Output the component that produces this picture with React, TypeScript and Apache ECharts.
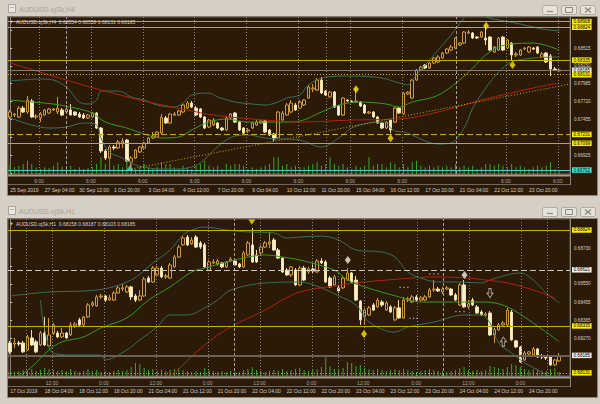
import React, { useEffect, useRef } from "react";
import * as echarts from "echarts";

const FONT = "'Liberation Sans', Arial, sans-serif";
const PAGE_BG = "#d5cfc5";
const PANEL = "#2b1a07";
const TXT = "#d6cec4";

// ---------------- TOP PANEL (H4) ----------------
const TOP_TITLE = "AUDUSD.ojSk,H4";
const TOP_LEGEND = "AUDUSD.ojSk,H4  0.68554 0.68558 0.68131 0.68185";
// [open, close, low, high]
const TOP_OHLC: number[][] = [
  [0.6749,0.67564,0.6746,0.67594],[0.67519,0.67534,0.6749,0.67549],[0.6749,0.67623,0.67475,0.67653],[0.67623,0.67564,0.67549,0.67653],
  [0.67564,0.67742,0.67534,0.67802],[0.67727,0.6749,0.67475,0.67757],[0.6749,0.67505,0.6746,0.67534],[0.67475,0.67534,0.67415,0.67564],
  [0.67519,0.67594,0.67505,0.67609],[0.67549,0.67609,0.67534,0.67623],[0.67594,0.67609,0.67579,0.67623],[0.67564,0.67623,0.67534,0.67787],
  [0.67594,0.67519,0.67505,0.67623],[0.67564,0.67609,0.67549,0.67668],[0.67594,0.67519,0.67519,0.67683],[0.67564,0.67519,0.67505,0.67579],
  [0.67534,0.6749,0.67475,0.67564],[0.67519,0.67475,0.6746,0.67549],[0.67475,0.67519,0.6746,0.67534],[0.6749,0.67549,0.67475,0.67564],
  [0.67549,0.67326,0.67311,0.67564],[0.67326,0.66985,0.66955,0.67341],[0.66985,0.6688,0.66851,0.67014],[0.6688,0.67044,0.66866,0.67074],
  [0.67044,0.67029,0.67,0.67074],[0.67029,0.67118,0.67014,0.67148],[0.67103,0.67133,0.67029,0.67178],[0.67148,0.66836,0.66821,0.67163],
  [0.66821,0.6688,0.66747,0.6691],[0.6688,0.67,0.66866,0.67014],[0.6697,0.67044,0.66955,0.67059],[0.67029,0.67103,0.67014,0.67118],
  [0.67103,0.67178,0.67089,0.67193],[0.67178,0.67207,0.67163,0.67267],[0.67193,0.67267,0.67178,0.67282],[0.67252,0.6749,0.67237,0.67534],
  [0.67475,0.67401,0.67386,0.67505],[0.67401,0.67534,0.67386,0.67549],[0.67519,0.67534,0.67505,0.67564],[0.67519,0.67579,0.67505,0.67594],
  [0.67564,0.67668,0.67549,0.67698],[0.67623,0.67698,0.67609,0.67727],[0.67698,0.67638,0.67623,0.67727],[0.67623,0.67519,0.67505,0.67653],
  [0.67609,0.6749,0.67475,0.67623],[0.6749,0.67326,0.67311,0.67505],[0.67341,0.67445,0.67326,0.6746],[0.67371,0.67445,0.67356,0.67475],
  [0.67401,0.67326,0.67311,0.67415],[0.67326,0.67297,0.67282,0.67341],[0.67297,0.67475,0.67282,0.67505],[0.67475,0.67534,0.6746,0.67549],
  [0.67549,0.67415,0.67401,0.67564],[0.67415,0.67297,0.67282,0.6743],[0.67326,0.67252,0.67237,0.67341],[0.67282,0.67297,0.67252,0.67326],
  [0.67326,0.67401,0.67311,0.67415],[0.67371,0.67415,0.67356,0.67445],[0.67401,0.6743,0.67386,0.67445],[0.6743,0.67267,0.67252,0.67445],
  [0.67297,0.67222,0.67207,0.67311],[0.67237,0.67163,0.67133,0.67252],[0.67178,0.67564,0.67163,0.67579],[0.67445,0.67549,0.6743,0.67579],
  [0.67519,0.67668,0.67505,0.67698],[0.67564,0.67698,0.67549,0.67742],[0.67668,0.67594,0.67579,0.67698],[0.67623,0.67713,0.67609,0.67742],
  [0.67668,0.67742,0.67653,0.67757],[0.67772,0.67935,0.67757,0.67965],[0.67906,0.67921,0.67861,0.6798],[0.67891,0.68039,0.67876,0.68069],
  [0.68039,0.67846,0.67831,0.68084],[0.67876,0.67817,0.67802,0.67891],[0.67787,0.67861,0.67772,0.67876],[0.67861,0.67638,0.67623,0.67876],
  [0.67653,0.67519,0.67505,0.67668],[0.67519,0.67772,0.67505,0.67787],[0.67742,0.67727,0.67713,0.67757],[0.67727,0.67713,0.67698,0.67742],
  [0.67713,0.67727,0.67698,0.67921],[0.67713,0.67653,0.67638,0.67727],[0.67668,0.67549,0.67534,0.67683],[0.67549,0.67564,0.67534,0.67579],
  [0.67564,0.6749,0.67475,0.67579],[0.6749,0.67401,0.67386,0.67505],[0.67401,0.67326,0.67311,0.67415],[0.67326,0.67415,0.67311,0.6743],
  [0.67445,0.67297,0.67252,0.6746],[0.67415,0.67623,0.67401,0.67638],[0.67623,0.67549,0.67534,0.67638],[0.67534,0.67846,0.67519,0.67861],
  [0.67831,0.67861,0.67817,0.67876],[0.67772,0.68039,0.67757,0.68054],[0.68039,0.68188,0.68025,0.68203],[0.68188,0.68233,0.68173,0.68248],
  [0.68262,0.68218,0.68203,0.68277],[0.68218,0.68292,0.68203,0.68307],[0.68292,0.68366,0.68277,0.68381],[0.68307,0.68381,0.68292,0.68411],
  [0.68366,0.68441,0.68352,0.68456],[0.68441,0.685,0.68426,0.68515],[0.68485,0.6853,0.6847,0.6856],[0.68515,0.68664,0.685,0.68678],
  [0.6856,0.68589,0.68545,0.68604],[0.68589,0.68753,0.68574,0.68768],[0.68738,0.68753,0.68723,0.68782],[0.68738,0.68664,0.68649,0.68753],
  [0.68678,0.68664,0.68649,0.68693],[0.68678,0.68753,0.68664,0.68768],[0.68664,0.68634,0.6856,0.68857],[0.68678,0.68485,0.6847,0.68693],
  [0.68456,0.6853,0.68441,0.68545],[0.68485,0.68664,0.6847,0.68678],[0.68678,0.68485,0.6847,0.68693],[0.68515,0.68634,0.685,0.68649],
  [0.68589,0.68411,0.68337,0.68604],[0.68411,0.68426,0.68381,0.68456],[0.68411,0.68485,0.68396,0.685],[0.685,0.68515,0.68485,0.6853],
  [0.68456,0.6853,0.68441,0.68545],[0.68515,0.685,0.68485,0.6853],[0.6853,0.68441,0.68426,0.68545],[0.68381,0.68426,0.68366,0.68456],
  [0.68441,0.68307,0.68292,0.68456],[0.68396,0.68203,0.68099,0.68426],[0.68203,0.68188,0.68173,0.68233],[0.68173,0.68188,0.68158,0.68203],
];
const TOP_VOL: number[] = [
  1000,700,830,1000,1330,1000,670,500,670,600, 830,1170,730,670,830,500,670,500,600,730,
  1000,1670,1000,2330,830,1000,670,2000,1000,500, 670,1000,670,500,730,1170,1000,1000,670,500,
  830,670,500,830,1000,1330,830,670,830,500, 1000,830,1000,1000,830,500,670,500,670,830,
  1000,1670,1670,830,1000,670,830,670,670,830, 1000,1170,830,1000,1670,1000,830,1000,670,500,
  830,670,830,1670,830,1000,1000,670,1170,1000, 670,1000,670,1170,1330,830,670,830,670,830,
  670,830,670,1000,670,830,670,830,500,670, 1000,1000,830,1000,830,670,1000,670,830,670,
  500,670,830,670,830,1170,500,330,
];
// Bollinger upper / middle / lower and slow MA, read as [bar, price]
const TOP_BB_UP: number[][] = [
  [0,0.68025],[7,0.68054],[10,0.68039],[13,0.67935],[16,0.67713],[18,0.67683],[20,0.67742],[21,0.67876],[24,0.67876],[26,0.67861],
  [28,0.67787],[31,0.67742],[34,0.67668],[38,0.67638],[40,0.67698],[42,0.67817],[46,0.67846],[48,0.67787],[52,0.67713],[56,0.67683],
  [59,0.67668],[62,0.67713],[64,0.67772],[67,0.67817],[69,0.67965],[73,0.68084],[79,0.68099],[86,0.68069],[90,0.67995],[92,0.67965],
  [93,0.68039],[96,0.68262],[99,0.68485],[102,0.68708],[105,0.68961],[107,0.6908],[110,0.68976],[113,0.68931],[118,0.68872],[123,0.68797],[127,0.68768],
];
const TOP_BB_MID: number[][] = [
  [0,0.67742],[5,0.67713],[10,0.67683],[15,0.67623],[19,0.67549],[22,0.67415],[27,0.67326],[31,0.67237],[35,0.67178],[39,0.67193],
  [42,0.67297],[46,0.67415],[50,0.6746],[55,0.67415],[59,0.67415],[63,0.67415],[67,0.6743],[72,0.67564],[76,0.67668],[81,0.67713],
  [87,0.67683],[90,0.67638],[93,0.67713],[98,0.67787],[101,0.67891],[104,0.68039],[107,0.68218],[110,0.68411],[113,0.6853],[116,0.68574],
  [121,0.68589],[127,0.68485],
];
const TOP_BB_LOW: number[][] = [
  [0,0.67475],[5,0.67371],[9,0.67326],[13,0.67341],[17,0.67401],[20,0.67371],[21,0.67178],[23,0.6697],[26,0.6688],[29,0.66776],
  [32,0.66732],[35,0.66717],[39,0.66717],[42,0.66747],[44,0.66806],[46,0.66925],[49,0.67103],[52,0.67207],[55,0.67222],[59,0.67178],
  [63,0.67163],[67,0.67148],[72,0.67044],[76,0.67178],[79,0.67326],[83,0.67401],[86,0.67415],[89,0.67282],[91,0.67267],[93,0.67222],
  [96,0.67133],[99,0.67089],[102,0.67103],[105,0.67326],[107,0.67623],[110,0.67921],[113,0.68158],[116,0.68307],[121,0.68366],[127,0.68381],
];
const TOP_MA: number[][] = [
  [0,0.68292],[13,0.68039],[21,0.67891],[32,0.67713],[41,0.67594],[47,0.67519],[59,0.67445],[67,0.67415],[79,0.67445],[90,0.6746],
  [99,0.67564],[109,0.67742],[122,0.67935],[127,0.67995],
];
const TOP_TREND: number[][] = [[28, 0.66717], [129.5, 0.6798]];
const TOP_LEVEL_PRICE = [0.68908, 0.68824, 0.68335, 0.68185, 0.68118, 0.67231, 0.67099, 0.66702];
const TOP_LEVEL_TEXT = ["0.68908", "0.68824", "0.68335", "0.68185", "0.68131", "0.67231", "0.67099", "0.66702"];
const TOP_PRICE_TICKS = [0.6666, 0.66925, 0.6719, 0.67455, 0.6772, 0.67985, 0.6825, 0.68515, 0.6878];
const TOP_PRICE_LABELS = [0.66925, 0.67455, 0.6772, 0.67985, 0.6825, 0.68515];
const TOP_DATE_IDX = [0, 8, 16, 24, 32, 40, 48, 56, 64, 72, 80, 88, 96, 104, 112, 120];
const TOP_DATE_TXT = ["25 Sep 2019", "27 Sep 04:00", "30 Sep 12:00", "1 Oct 20:00", "3 Oct 04:00", "4 Oct 12:00", "7 Oct 20:00", "9 Oct 04:00",
  "10 Oct 12:00", "11 Oct 20:00", "15 Oct 04:00", "16 Oct 12:00", "17 Oct 20:00", "21 Oct 04:00", "22 Oct 12:00", "23 Oct 20:00"];
const TOP_MARK_POS = [6.67, 18.67, 30.67, 42.67, 54.67, 66.67, 78.67, 90.67, 114.67, 126.67];
const TOP_MARK_TXT = ["6:00", "6:00", "6:00", "6:00", "6:00", "6:00", "6:00", "6:00", "6:00", "6:00"];
const TOP_SEP_POS = [6.67, 12.9, 18.67, 30.67, 42.67, 54.67, 66.67, 73.1, 78.67, 90.67, 103.1, 114.67, 126.67];
const TOP_SEP_WEEK = [12.9, 103.1];
const TOP_DIAMONDS: number[][] = [[80, 0.67901], [88, 0.67173], [110.1, 0.68846], [116.2, 0.68262]];
const TOP_TRIANGLE: number[][] = [[27.7, 0.66735]];

// ---------------- BOTTOM PANEL (H1) ----------------
const BOT_TITLE = "AUDUSD.ojSk,H1";
const BOT_LEGEND = "AUDUSD.ojSk,H1  0.68158 0.68187 0.68103 0.68185";
const BOT_OHLC: number[][] = [
  [0.68248,0.68203,0.68192,0.68259],[0.68243,0.68248,0.68223,0.68274],[0.68248,0.68243,0.68233,0.68259],[0.68248,0.68203,0.68197,0.68259],
  [0.68213,0.68279,0.68208,0.68289],[0.68274,0.68238,0.68233,0.68315],[0.68254,0.68203,0.68197,0.68264],[0.68238,0.68299,0.68233,0.6831],
  [0.68299,0.68238,0.68233,0.68381],[0.68233,0.68289,0.68228,0.68376],[0.68299,0.6834,0.68289,0.6835],[0.68299,0.68279,0.68274,0.6831],
  [0.68279,0.68299,0.68274,0.68325],[0.68299,0.68274,0.68269,0.68304],[0.68289,0.6834,0.68284,0.68355],[0.68335,0.68345,0.68325,0.68355],
  [0.68366,0.6834,0.68335,0.68376],[0.6834,0.68381,0.68335,0.68386],[0.68381,0.68442,0.68376,0.68452],[0.68442,0.68452,0.68432,0.68462],
  [0.68437,0.68483,0.68432,0.68493],[0.68483,0.68488,0.68473,0.68498],[0.68488,0.68467,0.68457,0.68493],[0.68467,0.68478,0.68462,0.68493],
  [0.68467,0.68503,0.68462,0.68513],[0.68503,0.68529,0.68498,0.68539],[0.68523,0.68529,0.68513,0.68549],[0.68508,0.68534,0.68503,0.68544],
  [0.68534,0.68483,0.68467,0.68539],[0.68488,0.68467,0.68457,0.68498],[0.68467,0.68488,0.68462,0.68518],[0.68488,0.68574,0.68483,0.68585],
  [0.68579,0.68559,0.68554,0.6859],[0.68559,0.6863,0.68554,0.68641],[0.68595,0.6863,0.6859,0.68641],[0.6863,0.68585,0.68579,0.68641],
  [0.68585,0.6859,0.68574,0.686],[0.68579,0.68646,0.68574,0.68656],[0.68636,0.68686,0.6863,0.68697],[0.68686,0.68737,0.68681,0.68748],
  [0.68748,0.68783,0.68742,0.68793],[0.68788,0.68748,0.68742,0.68799],[0.68753,0.68773,0.68748,0.68788],[0.68788,0.68737,0.68732,0.68799],
  [0.68758,0.68737,0.68727,0.68768],[0.68748,0.68636,0.6863,0.68758],[0.6862,0.68661,0.68615,0.68671],[0.68656,0.68661,0.68651,0.68676],
  [0.68651,0.68666,0.68641,0.68676],[0.68656,0.68636,0.6863,0.68661],[0.68636,0.68661,0.6863,0.68666],[0.68666,0.68676,0.68661,0.68686],
  [0.68666,0.68646,0.68641,0.68676],[0.68651,0.68636,0.6863,0.68656],[0.68636,0.68707,0.6863,0.68717],[0.68697,0.68758,0.68692,0.68768],
  [0.68748,0.68661,0.68656,0.68834],[0.68697,0.68661,0.68656,0.68722],[0.68707,0.68737,0.68697,0.68748],[0.68737,0.68758,0.68732,0.68768],
  [0.68753,0.68763,0.68732,0.68809],[0.68773,0.68722,0.68717,0.68783],[0.68722,0.68681,0.68676,0.68732],[0.68681,0.6861,0.68605,0.68686],
  [0.6862,0.68595,0.6859,0.6863],[0.68595,0.68636,0.68585,0.68641],[0.6862,0.68544,0.68539,0.6863],[0.68544,0.6863,0.68539,0.68641],
  [0.6863,0.68569,0.68564,0.68641],[0.6861,0.68625,0.686,0.68636],[0.68625,0.68615,0.68605,0.68656],[0.6861,0.68666,0.68605,0.68676],
  [0.68666,0.68656,0.68651,0.68681],[0.68661,0.68559,0.68554,0.68671],[0.68579,0.68534,0.68529,0.6859],[0.68544,0.68585,0.68539,0.68595],
  [0.68529,0.68513,0.68503,0.68539],[0.68529,0.68579,0.68523,0.6859],[0.68569,0.68605,0.68564,0.6863],[0.68605,0.68559,0.68554,0.6861],
  [0.68569,0.68467,0.68462,0.6859],[0.68462,0.68366,0.6834,0.68467],[0.68381,0.68416,0.6834,0.68427],[0.68391,0.68427,0.68386,0.68437],
  [0.68442,0.68416,0.68411,0.68452],[0.68432,0.68467,0.68427,0.68478],[0.68457,0.68442,0.68432,0.68467],[0.68416,0.68452,0.68411,0.68462],
  [0.68432,0.68406,0.68401,0.68442],[0.68366,0.68427,0.6836,0.68437],[0.68427,0.68376,0.68371,0.68467],[0.68376,0.68467,0.68371,0.68483],
  [0.68467,0.68473,0.68457,0.68483],[0.68457,0.68483,0.68452,0.68493],[0.68483,0.68467,0.68462,0.68493],[0.68467,0.68478,0.68462,0.68488],
  [0.68467,0.68483,0.68462,0.68493],[0.68483,0.68518,0.68478,0.68529],[0.68518,0.68523,0.68508,0.68569],[0.68523,0.68513,0.68508,0.68534],
  [0.68508,0.68523,0.68498,0.68534],[0.68523,0.68529,0.68518,0.68539],[0.68523,0.68493,0.68488,0.68529],[0.68493,0.68467,0.68462,0.68503],
  [0.68442,0.68544,0.68437,0.68554],[0.68544,0.68432,0.68427,0.68569],[0.68432,0.68447,0.68422,0.68467],[0.68467,0.68442,0.68437,0.68478],
  [0.68432,0.68401,0.68396,0.68442],[0.68406,0.68391,0.68386,0.68416],[0.68391,0.68396,0.68381,0.68406],[0.68401,0.68289,0.68284,0.68411],
  [0.68289,0.68315,0.68248,0.68325],[0.68315,0.6834,0.6831,0.6835],[0.6834,0.6835,0.68335,0.6836],[0.6834,0.68416,0.68335,0.68427],
  [0.68406,0.68264,0.68259,0.68416],[0.68259,0.68228,0.68223,0.68264],[0.68228,0.68152,0.68147,0.68233],[0.68162,0.68197,0.68157,0.68208],
  [0.68192,0.68203,0.68187,0.68208],[0.68187,0.68218,0.68182,0.68228],[0.68218,0.68177,0.68172,0.68223],[0.68182,0.68177,0.68167,0.68192],
  [0.68177,0.68172,0.68162,0.68182],[0.68177,0.68136,0.68131,0.68182],[0.68136,0.68162,0.68131,0.68167],[0.68157,0.68182,0.68152,0.68197],
];
const BOT_VOL: number[] = [
  500,400,500,600,500,700,500,600,800,700, 600,500,600,500,700,500,400,500,700,500,
  600,400,500,400,500,600,500,600,900,1300, 1200,800,600,700,500,600,500,600,700,800,
  600,500,400,500,400,800,600,500,400,500, 400,500,400,400,600,700,900,600,500,400,
  500,600,500,700,500,600,700,800,600,500, 600,700,900,1900,1000,700,600,800,1400,1300,
  1000,1100,800,700,600,700,600,500,600,700, 600,700,600,500,400,500,600,700,600,500,
  500,400,500,600,800,900,600,500,600,500, 600,1000,900,800,700,900,1200,1100,900,700,
  600,700,600,500,500,700,800,400,
];
const BOT_BB_UP: number[][] = [
  [0,0.68488],[9,0.68508],[20,0.68518],[28,0.68569],[33,0.68656],[37,0.68722],[40,0.68799],[42,0.68824],[45,0.68839],[50,0.68824],
  [55,0.68814],[61,0.68809],[64,0.68783],[67,0.68788],[72,0.68793],[76,0.68773],[80,0.68722],[86,0.68712],[89,0.68686],[92,0.6861],
  [95,0.68579],[99,0.68559],[104,0.68559],[109,0.68554],[111,0.68569],[115,0.68595],[118,0.68605],[121,0.68569],[124,0.68503],[127,0.68452],
];
const BOT_BB_MID: number[][] = [
  [0,0.6803],[2,0.68075],[5,0.68126],[9,0.68213],[12,0.68254],[17,0.68279],[21,0.68325],[27,0.68376],[32,0.68467],[37,0.68534],
  [42,0.6861],[45,0.6863],[50,0.68661],[55,0.68686],[59,0.68697],[63,0.68686],[67,0.68671],[75,0.6862],[78,0.68569],[82,0.68534],
  [90,0.68483],[95,0.68457],[110,0.68457],[115,0.68432],[121,0.6835],[127,0.68254],
];
const BOT_BB_LOW: number[][] = [
  [7,0.68467],[8,0.68315],[10,0.68197],[15,0.68187],[21,0.68187],[22,0.68162],[27,0.68213],[30,0.68264],[34,0.6833],[37,0.68391],
  [41,0.68391],[45,0.68427],[48,0.68467],[51,0.68518],[59,0.68554],[67,0.68559],[72,0.68529],[76,0.68488],[80,0.68442],[83,0.68355],
  [89,0.68304],[92,0.6833],[98,0.68355],[105,0.68391],[109,0.68391],[111,0.6835],[113,0.68248],[116,0.68197],[119,0.68147],[122,0.68111],
  [125,0.68075],[127,0.6806],
];
const BOT_MA: number[][] = [
  [36,0.6806],[37,0.68075],[45,0.68238],[51,0.6833],[59,0.68416],[63,0.68467],[67,0.68508],[75,0.68539],[82,0.68559],[90,0.68574],
  [98,0.68585],[106,0.68579],[110,0.68569],[115,0.68554],[121,0.68518],[126,0.68478],
];
const BOT_LEVEL_PRICE = [0.68824, 0.68621, 0.68335, 0.68185, 0.68096];
const BOT_LEVEL_TEXT = ["0.68824", "0.68621", "0.68335", "0.68185", "0.68131"];
const BOT_PRICE_TICKS = [0.6818, 0.6827, 0.68365, 0.68455, 0.6855, 0.6864, 0.6873];
const BOT_PRICE_LABELS = [0.6827, 0.68365, 0.68455, 0.6855, 0.6873];
const BOT_DATE_IDX = [0, 8, 16, 24, 32, 40, 48, 56, 64, 72, 80, 88, 96, 104, 112, 120];
const BOT_DATE_TXT = ["17 Oct 2019", "18 Oct 04:00", "18 Oct 12:00", "18 Oct 20:00", "21 Oct 04:00", "21 Oct 12:00", "21 Oct 20:00", "22 Oct 04:00",
  "22 Oct 12:00", "22 Oct 20:00", "23 Oct 04:00", "23 Oct 12:00", "23 Oct 20:00", "24 Oct 04:00", "24 Oct 12:00", "24 Oct 20:00"];
const BOT_MARK_POS = [9.68, 21.7, 33.7, 45.7, 57.7, 69.7, 81.7, 93.9, 106, 118];
const BOT_MARK_TXT = ["12:00", "0:00", "12:00", "0:00", "12:00", "0:00", "12:00", "0:00", "12:00", "0:00"];
const BOT_SEP_POS = [3.66, 9.68, 21.7, 33.7, 45.8, 51.8, 57.8, 69.8, 75.8, 81.9, 94.1, 100.1, 106.1, 118.2, 124.2];
const BOT_SEP_WEEK = [51.8, 100.1];
const BOT_TRI_DOWN: number[][] = [[55.9, 0.68865]];
const BOT_DIAMONDS: number[][] = [[81.85, 0.68294]];
const BOT_WHITE_DIAMONDS: number[][] = [[78.1, 0.68671], [105.1, 0.68595]];
const BOT_ARROW_DOWN: number[][] = [[111, 0.68502]];
const BOT_ARROW_UP: number[][] = [[114.1, 0.68255]];
const BOT_DOTS: number[][] = [
  [90.2,0.68532],[91.1,0.68532],[92,0.68532],[97.1,0.686],[98,0.686],[99,0.686],
  [92.5,0.68374],[93.3,0.68374],[94.1,0.68374],[103.1,0.68408],[104,0.68408],[105,0.68408],
];

const N_SLOTS = 130;

const YELLOW = "#c4b000";
const LBL_Y = "#ffec00";

function levelStyle(kind: string) {
  switch (kind) {
    case "solid": return { line: { color: YELLOW, width: 1, type: "solid" }, bg: LBL_Y };
    case "dotted": return { line: { color: YELLOW, width: 1, type: [1, 2] }, bg: LBL_Y };
    case "dashed": return { line: { color: YELLOW, width: 1, type: [6, 3] }, bg: LBL_Y };
    case "bid": return { line: { color: "#857a6f", width: 1, type: "solid" }, bg: "#f2eee8" };
    case "bidthick": return { line: { color: "#6a5f55", width: 2, type: "solid" }, bg: "#f2eee8" };
    case "wdash": return { line: { color: "#cfc7bd", width: 1, type: [6, 3] }, bg: "#f2eee8" };
    case "cyan": return { line: { color: "#3fd8c8", width: 1, type: "solid" }, bg: "#48e6d6" };
    default: return { line: { color: YELLOW, width: 1, type: "solid" }, bg: LBL_Y };
  }
}
const TOP_LEVEL_KIND = ["solid", "solid", "solid", "bid", "dotted", "dashed", "solid", "cyan"];
const BOT_LEVEL_KIND = ["solid", "wdash", "solid", "bidthick", "dotted"];

function levelMarks(prices: number[], texts: string[], kinds: string[]) {
  return prices.map((p, k) => {
    const s = levelStyle(kinds[k]);
    return {
      yAxis: p,
      lineStyle: s.line,
      label: {
        show: true, position: "end", distance: 2, formatter: texts[k],
        backgroundColor: s.bg, color: "#000", fontSize: 4.6, fontFamily: FONT,
        padding: [0.5, 1.5, 0, 1.5],
      },
    };
  });
}

function sepMarks(pos: number[], week: number[]) {
  return pos.map((x) => ({
    xAxis: x,
    lineStyle: { color: week.includes(x) ? "#a89e94" : "#8e847a", width: 1, type: week.includes(x) ? [3, 2] : [1, 2] },
  }));
}

function bandLine(data: number[][], color: string, xi: number, yi: number) {
  return {
    type: "line", data, xAxisIndex: xi, yAxisIndex: yi, symbol: "none", showSymbol: false,
    smooth: 0.35, lineStyle: { color, width: 1 }, silent: true, z: 4, clip: true,
  };
}

function panelSeries(p: {
  ohlc: number[][]; vol: number[]; up: number[][]; mid: number[][]; low: number[][]; ma: number[][];
  gx: number; gv: number; yP: number; yV: number; levels: any[]; seps: any[];
}) {
  return [
    { type: "bar", xAxisIndex: p.gx, yAxisIndex: p.yV, data: p.vol, barWidth: 1, itemStyle: { color: "#3ca828" }, silent: true, z: 1 },
    { type: "line", xAxisIndex: p.gv, yAxisIndex: p.yP, data: [], silent: true, z: 1,
      markLine: { symbol: ["none", "none"], precision: 5, silent: true, animation: false, label: { show: false }, data: p.seps } },
    {
      type: "candlestick", xAxisIndex: p.gx, yAxisIndex: p.yP, data: p.ohlc, barWidth: 3, silent: true, z: 3,
      itemStyle: { color: PANEL, color0: "#fbf0cc", borderColor: "#cf9a3a", borderColor0: "#efe0b0", borderWidth: 1 },
    },
    bandLine(p.up, "#3d6d5a", p.gv, p.yP),
    bandLine(p.low, "#3d6d5a", p.gv, p.yP),
    bandLine(p.mid, "#3c9a1a", p.gv, p.yP),
    bandLine(p.ma, "#b3210f", p.gv, p.yP),
    { type: "line", xAxisIndex: p.gv, yAxisIndex: p.yP, data: [], silent: true, z: 6,
      markLine: { symbol: ["none", "none"], precision: 5, silent: true, animation: false, data: p.levels } },
  ];
}

function buildOption(): any {
  const cats = Array.from({ length: N_SLOTS }, (_, i) => String(i));
  const catAxis = (grid: number, idx: number[], txt: string[], margin: number) => ({
    type: "category", gridIndex: grid, data: cats, boundaryGap: true,
    axisLine: { show: false }, axisTick: { show: false }, splitLine: { show: false },
    axisLabel: {
      interval: (i: number) => idx.includes(i),
      formatter: (_v: string, i: number) => txt[idx.indexOf(i)] ?? "",
      showMinLabel: true, showMaxLabel: true, hideOverlap: false,
      align: "left", margin, fontSize: 5, color: TXT, fontFamily: FONT,
    },
  });
  const valX = (grid: number) => ({ type: "value", gridIndex: grid, min: -0.5, max: N_SLOTS - 0.5, show: false });
  const priceAxis = (grid: number, min: number, max: number, ticks: number[], labels: number[]) => ({
    type: "value", gridIndex: grid, position: "right", min, max,
    splitLine: { show: false },
    axisLine: { show: true, lineStyle: { color: "#8f867c" } },
    axisTick: { show: true, customValues: ticks, length: 2, lineStyle: { color: "#cfc7bd" } },
    axisLabel: { customValues: labels, formatter: (v: number) => v.toFixed(5), color: TXT, fontSize: 4.6, fontFamily: FONT, margin: 4 },
  });
  const hiddenY = (grid: number, max: number) => ({ type: "value", gridIndex: grid, min: 0, max, show: false });

  const stripLabels = (pos: number[], txt: string[], xi: number, yi: number) => ({
    type: "scatter", xAxisIndex: xi, yAxisIndex: yi, data: pos.map((x) => [x, 0.5]), symbolSize: 1, silent: true,
    itemStyle: { color: "rgba(0,0,0,0)" },
    label: { show: true, position: "inside", formatter: (q: any) => txt[q.dataIndex], fontSize: 5, color: TXT, fontFamily: FONT },
  });

  const marker = (data: number[][], xi: number, yi: number, symbol: string, size: any, style: any, rotate = 0) => ({
    type: "scatter", xAxisIndex: xi, yAxisIndex: yi, data, symbol, symbolSize: size, symbolRotate: rotate,
    itemStyle: style, silent: true, z: 7,
  });

  const gridBase = { show: true, backgroundColor: PANEL, borderColor: "#6e655c", borderWidth: 1 };

  const graphics: any[] = [];
  const windowDeco = (y0: number, title: string, legend: string, plotTop: number, plotBottom: number) => {
    graphics.push(
      { type: "rect", shape: { x: 7.5, y: y0 + 16.5, width: 590, height: 179 }, style: { fill: PANEL, stroke: "#8d867d", lineWidth: 1 }, z: -10, silent: true },
      { type: "rect", shape: { x: 8.5, y: y0 + 4.5, width: 7, height: 8 }, style: { fill: "#ebe7e1", stroke: "#a9a39b", lineWidth: 1 }, silent: true },
      { type: "line", shape: { x1: 10, y1: y0 + 7.5, x2: 14, y2: y0 + 7.5 }, style: { stroke: "#b7b0a7", lineWidth: 1 }, silent: true },
      { type: "text", x: 19, y: y0 + 9, style: { text: title, fill: "#a9a39b", font: `7px ${FONT}`, verticalAlign: "middle" }, silent: true },
      { type: "text", x: 10, y: plotTop + 5, style: { text: "▼", fill: "#d0c8c0", font: `3.5px 'DejaVu Sans'`, verticalAlign: "middle" }, silent: true, z: 20 },
      { type: "text", x: 16, y: plotTop + 5, style: { text: legend, fill: "#d8d0c6", font: `5px ${FONT}`, verticalAlign: "middle" }, silent: true, z: 20 },
      { type: "line", shape: { x1: 8, y1: plotBottom + 1.5, x2: 570, y2: plotBottom + 1.5 }, style: { stroke: "#a59c92", lineWidth: 2 }, z: 30, silent: true },
      { type: "line", shape: { x1: 8, y1: plotBottom + 10.5, x2: 570, y2: plotBottom + 10.5 }, style: { stroke: "#6f665d", lineWidth: 1 }, z: 30, silent: true },
      { type: "line", shape: { x1: 570.5, y1: plotTop, x2: 570.5, y2: plotBottom + 11 }, style: { stroke: "#8f867c", lineWidth: 1 }, z: 30, silent: true },
    );
    const bx = [542, 561, 580];
    bx.forEach((x) => graphics.push({ type: "rect", shape: { x: x + 0.5, y: y0 + 5.5, width: 15, height: 9, r: 1.5 }, style: { fill: "#e7e2da", stroke: "#b2aca3", lineWidth: 1 }, silent: true }));
    graphics.push(
      { type: "line", shape: { x1: 547, y1: y0 + 11.5, x2: 553, y2: y0 + 11.5 }, style: { stroke: "#8d877f", lineWidth: 1.2 }, silent: true },
      { type: "rect", shape: { x: 565.5, y: y0 + 7.5, width: 7, height: 5 }, style: { fill: "none", stroke: "#8d877f", lineWidth: 1 }, silent: true },
      { type: "line", shape: { x1: 585, y1: y0 + 7.5, x2: 591, y2: y0 + 12.5 }, style: { stroke: "#8d877f", lineWidth: 1.2 }, silent: true },
      { type: "line", shape: { x1: 591, y1: y0 + 7.5, x2: 585, y2: y0 + 12.5 }, style: { stroke: "#8d877f", lineWidth: 1.2 }, silent: true },
    );
  };
  windowDeco(0, TOP_TITLE, TOP_LEGEND, 17, 174);
  windowDeco(202, BOT_TITLE, BOT_LEGEND, 219, 376);

  const arrowDown = "path://M3,0H7V6H10L5,12L0,6H3Z";
  const arrowUp = "path://M5,0L10,6H7V12H3V6H0Z";

  return {
    animation: false,
    backgroundColor: PAGE_BG,
    textStyle: { fontFamily: FONT },
    graphic: { elements: graphics },
    grid: [
      { ...gridBase, left: 8, top: 17, width: 562, height: 157 },
      { ...gridBase, left: 8, top: 219, width: 562, height: 157 },
      { show: true, backgroundColor: PANEL, borderWidth: 0, left: 8, top: 177, width: 562, height: 7 },
      { show: true, backgroundColor: PANEL, borderWidth: 0, left: 8, top: 379, width: 562, height: 7 },
    ],
    xAxis: [
      catAxis(0, TOP_DATE_IDX, TOP_DATE_TXT, 13),
      valX(0),
      catAxis(1, BOT_DATE_IDX, BOT_DATE_TXT, 12.5),
      valX(1),
      valX(2),
      valX(3),
    ],
    yAxis: [
      priceAxis(0, 0.66643, 0.68976, TOP_PRICE_TICKS, TOP_PRICE_LABELS),
      hiddenY(0, 15700),
      priceAxis(1, 0.6808, 0.6888, BOT_PRICE_TICKS, BOT_PRICE_LABELS),
      hiddenY(1, 15700),
      hiddenY(2, 1),
      hiddenY(3, 1),
    ],
    series: [
      ...panelSeries({
        ohlc: TOP_OHLC, vol: TOP_VOL, up: TOP_BB_UP, mid: TOP_BB_MID, low: TOP_BB_LOW, ma: TOP_MA,
        gx: 0, gv: 1, yP: 0, yV: 1,
        levels: levelMarks(TOP_LEVEL_PRICE, TOP_LEVEL_TEXT, TOP_LEVEL_KIND),
        seps: sepMarks(TOP_SEP_POS, TOP_SEP_WEEK),
      }),
      { type: "line", xAxisIndex: 1, yAxisIndex: 0, data: TOP_TREND, symbol: "none", silent: true, z: 5,
        lineStyle: { color: "#c4b000", width: 1, type: [1, 2] } },
      marker(TOP_DIAMONDS, 1, 0, "diamond", [6, 8], { color: "#ffe400" }),
      marker(TOP_TRIANGLE, 1, 0, "triangle", [7, 5], { color: "#40e2d2" }),
      stripLabels(TOP_MARK_POS, TOP_MARK_TXT, 4, 4),

      ...panelSeries({
        ohlc: BOT_OHLC, vol: BOT_VOL, up: BOT_BB_UP, mid: BOT_BB_MID, low: BOT_BB_LOW, ma: BOT_MA,
        gx: 2, gv: 3, yP: 2, yV: 3,
        levels: levelMarks(BOT_LEVEL_PRICE, BOT_LEVEL_TEXT, BOT_LEVEL_KIND),
        seps: sepMarks(BOT_SEP_POS, BOT_SEP_WEEK),
      }),
      marker(BOT_TRI_DOWN, 3, 2, "triangle", [7, 5], { color: "#ffe400" }, 180),
      marker(BOT_DIAMONDS, 3, 2, "diamond", [6, 8], { color: "#ffe400" }),
      marker(BOT_WHITE_DIAMONDS, 3, 2, "diamond", [6, 8], { color: "#f6eee6" }),
      marker(BOT_ARROW_DOWN, 3, 2, arrowDown, [6, 9], { color: PANEL, borderColor: "#cbc2b8", borderWidth: 1 }),
      marker(BOT_ARROW_UP, 3, 2, arrowUp, [6, 9], { color: PANEL, borderColor: "#cbc2b8", borderWidth: 1 }),
      marker(BOT_DOTS, 3, 2, "rect", [1.3, 1.3], { color: "#d8d0c8" }),
      stripLabels(BOT_MARK_POS, BOT_MARK_TXT, 5, 5),
    ],
  };
}

export default function App() {
  const ref = useRef<HTMLDivElement>(null);
  useEffect(() => {
    if (!ref.current) return;
    const chart = echarts.init(ref.current, null, { renderer: "svg", width: 600, height: 404 });
    chart.setOption(buildOption());
    return () => chart.dispose();
  }, []);
  return <div ref={ref} style={{ position: "fixed", left: 0, top: 0, width: 600, height: 404 }} />;
}
